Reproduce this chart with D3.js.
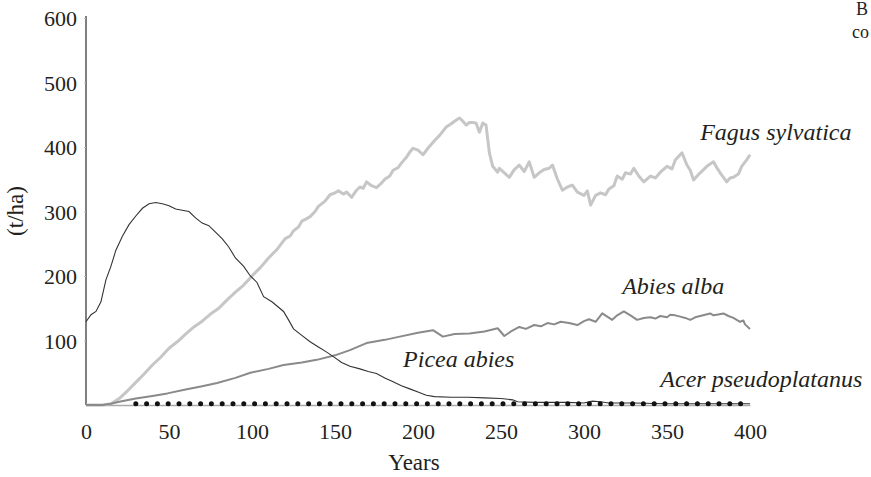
<!DOCTYPE html>
<html lang="en">
<head>
<meta charset="UTF-8">
<title>Biomass by species</title>
<style>
  body { margin: 0; background: #fff; overflow: hidden; }
  svg text { font-family: "Liberation Serif", "DejaVu Serif", serif; fill: #231f20; }
  .tick text { font-size: 22px; }
  .axis-title { font-size: 23px; }
  .species { font-size: 24px; font-style: italic; }
</style>
</head>
<body>
<svg></svg>
<script src="https://d3js.org/d3.v7.min.js"></script>
<script>
// [year, t/ha]
const fagus = [[0,0],[10,0],[15,2],[20,10],[25,22],[30,35],[35,48],[40,62],[45,74],[50,88],[55,98],[60,110],
  [65,121],[70,130],[75,141],[80,150],[85,163],[90,175],[95,186],[100,200],[105,213],[110,228],[115,241],[120,258],
  [123,262],[125,270],[128,276],[130,285],[133,289],[135,292],[138,300],[140,308],[144,316],[147,326],[150,329],
  [152,332],[155,327],[157,330],[160,322],[163,333],[165,338],[167,336],[169,346],[172,340],[175,337],[178,344],
  [180,350],[183,355],[185,364],[188,368],[190,375],[193,384],[195,392],[197,398],[200,395],[203,388],[206,398],
  [210,410],[213,418],[217,431],[220,436],[222,440],[225,445],[227,440],[229,434],[231,438],[233,438],[235,437],
  [237,423],[239,437],[241,434],[243,391],[245,370],[248,361],[249,367],[252,360],[255,353],[258,365],[261,372],
  [264,362],[267,377],[270,353],[273,360],[276,365],[279,367],[281,372],[284,350],[287,333],[290,338],[293,341],
  [296,330],[300,325],[302,332],[304,310],[307,325],[310,329],[313,326],[315,335],[318,340],[320,355],[323,350],
  [325,360],[328,358],[330,367],[333,355],[336,346],[340,355],[343,352],[346,361],[350,370],[353,366],[355,380],
  [359,391],[362,372],[364,364],[366,349],[370,360],[374,370],[378,377],[380,368],[382,360],[386,346],[388,352],
  [390,353],[393,358],[395,370],[398,380],[400,388]];

const abies = [[0,0],[10,0],[15,2],[20,5],[30,10],[40,14],[49,18],[60,24],[70,29],[79,34],[90,42],[99,50],
  [110,56],[119,62],[130,66],[139,70],[150,77],[159,85],[169,96],[180,101],[189,106],[200,112],[209,116],
  [215,106],[222,110],[231,111],[240,114],[248,119],[252,107],[256,114],[261,121],[265,118],[270,124],[274,122],
  [278,127],[282,125],[286,129],[291,127],[296,124],[300,130],[303,133],[307,129],[311,142],[314,137],[317,132],
  [320,139],[324,145],[328,139],[332,132],[336,135],[340,136],[343,134],[346,138],[350,136],[352,140],[355,139],
  [358,137],[361,135],[364,132],[367,136],[370,138],[373,140],[376,142],[378,139],[380,140],[384,142],[387,138],
  [390,135],[392,132],[394,129],[396,131],[397,125],[400,118]];

const picea = [[0,129],[3,140],[6,145],[9,160],[12,194],[15,215],[18,240],[22,262],[26,280],[30,293],[34,305],
  [38,312],[42,314],[46,312],[50,309],[54,304],[58,302],[62,300],[66,290],[70,282],[74,278],[78,268],[82,258],
  [86,245],[90,228],[95,215],[99,200],[103,190],[107,168],[112,160],[119,145],[122,132],[125,118],[130,108],
  [135,98],[140,90],[145,82],[149,75],[154,66],[159,60],[165,56],[170,52],[175,49],[180,42],[185,36],[190,30],
  [195,25],[200,20],[205,15],[210,13],[220,12],[230,12],[240,11],[250,10],[257,8],[260,5],[270,4],[280,4],
  [290,4],[300,3],[305,6],[310,5],[315,3],[330,3],[350,2],[380,2],[400,2]];

const acer = [[30,2],[100,2],[200,2],[300,2],[398,2]];

const xTicks = [0, 50, 100, 150, 200, 250, 300, 350, 400];
const yTicks = [100, 200, 300, 400, 500, 600];

const width = 871, height = 477;
const svg = d3.select("svg").attr("width", width).attr("height", height);

const x = d3.scaleLinear().domain([0, 400]).range([86, 750]);
const y = d3.scaleLinear().domain([0, 600]).range([405, 18]);

// x axis: faint baseline, labels only
const xAxis = svg.append("g")
    .attr("transform", `translate(0,${y(0)})`)
    .call(d3.axisBottom(x).tickValues(xTicks).tickSize(0).tickPadding(0));
xAxis.select(".domain").attr("stroke", "#aaa").attr("stroke-width", 1.5);
xAxis.selectAll(".tick text").attr("dy", null).attr("y", 34);

// y axis
const yAxis = svg.append("g")
    .attr("transform", `translate(${x(0)},0)`)
    .call(d3.axisLeft(y).tickValues(yTicks).tickSize(2).tickSizeOuter(0).tickPadding(7));
yAxis.select(".domain").attr("stroke", "#555").attr("stroke-width", 1.5)
    .attr("d", `M0,${y(0)}V16`);
yAxis.selectAll(".tick line").attr("stroke", "#bbb");
yAxis.selectAll(".tick text").attr("dy", "0.35em");

const line = d3.line().x(d => x(d[0])).y(d => y(d[1]));

svg.append("path").datum(fagus).attr("d", line)
    .attr("fill", "none").attr("stroke", "#c6c6c6").attr("stroke-width", 3).attr("stroke-linejoin", "round");
svg.append("path").datum(abies).attr("d", line)
    .attr("fill", "none").attr("stroke", "#8a8a8a").attr("stroke-width", 2).attr("stroke-linejoin", "round");
svg.append("path").datum(picea).attr("d", line)
    .attr("fill", "none").attr("stroke", "#333").attr("stroke-width", 1.1);
svg.append("path").datum(acer).attr("d", line)
    .attr("fill", "none").attr("stroke", "#111").attr("stroke-width", 5)
    .attr("stroke-linecap", "round").attr("stroke-dasharray", "0,10.8");

// species labels (left edge of text, in data units)
const labels = [
  { text: "Fagus sylvatica", year: 370, value: 411 },
  { text: "Abies alba", year: 323, value: 172 },
  { text: "Picea abies", year: 191, value: 59 },
  { text: "Acer pseudoplatanus", year: 346, value: 28 }
];
svg.append("g").selectAll("text").data(labels).join("text")
    .attr("class", "species")
    .attr("x", d => x(d.year))
    .attr("y", d => y(d.value))
    .text(d => d.text);

// axis titles
svg.append("text").attr("class", "axis-title")
    .attr("x", 414).attr("y", 470).attr("text-anchor", "middle").text("Years");
svg.append("text").attr("class", "axis-title")
    .attr("transform", "translate(23,211) rotate(-90)")
    .attr("text-anchor", "middle").text("(t/ha)");

// text from the page beside the figure, kept inside the frame
svg.append("text").attr("x", 856).attr("y", 15).style("font-size", "18px").text("B");
svg.append("text").attr("x", 852).attr("y", 38).style("font-size", "18px").text("co");
</script>
</body>
</html>
